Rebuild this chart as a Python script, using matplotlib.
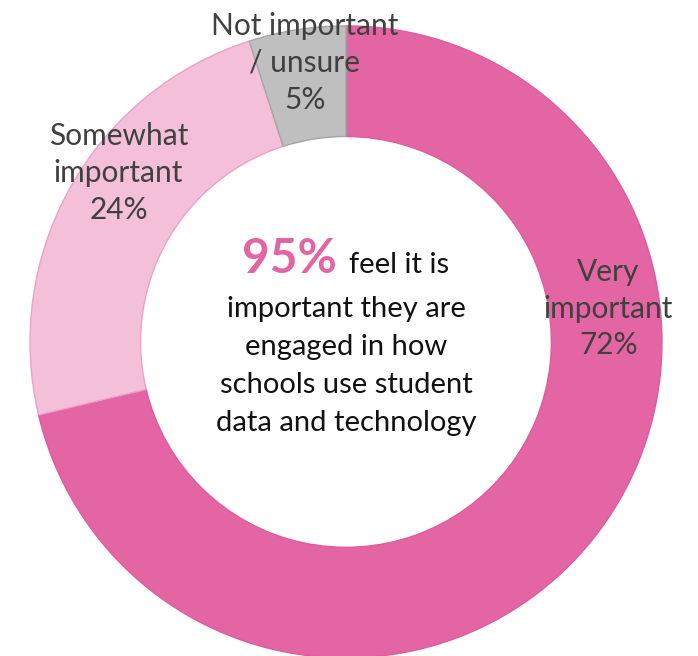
import matplotlib.pyplot as plt

# survey shares, clockwise from 12 o'clock
categories = ["Very\nimportant", "Somewhat\nimportant", "Not important\n/ unsure"]
shares = [72, 24, 5]
colors = ["#E465A3", "#F3BFD9", "#BFBFBF"]
edges = ["#E05C9C", "#EBA3C8", "#A5A5A5"]

headline = 95
message = ["important they are", "engaged in how", "schools use student", "data and technology"]

plt.rcParams['font.family'] = ['Lato', 'DejaVu Sans']

fig = plt.figure(figsize=(6.98, 6.56), dpi=100)
ax = fig.add_axes([0, 0, 1, 1])

wedges, _ = ax.pie(shares, colors=colors, startangle=90, counterclock=False,
                   radius=1.0, wedgeprops=dict(width=0.35, linewidth=1.0),
                   normalize=True)
for w, ec in zip(wedges, edges):
    w.set_edgecolor(ec)

ax.set_xlim(-1.095, 1.114)
ax.set_ylim(-0.994, 1.082)
ax.set_aspect('auto')
ax.axis('off')

# slice labels
label_pos = [(0.83, 0.105), (-0.72, 0.535), (-0.13, 0.883)]
for (x, y), cat, v in zip(label_pos, categories, shares):
    ax.text(x, y, f"{cat}\n{v}%", ha='center', va='center', fontsize=21.5,
            color="#404040", linespacing=1.38)

# center message
ax.text(-0.03, 0.218, f"{headline}%", ha='right', va='baseline', fontsize=34.5,
        fontweight='bold', color="#E465A3")
ax.text(0.01, 0.218, "feel it is", ha='left', va='baseline', fontsize=21,
        color="#111111")
for i, line in enumerate(message):
    ax.text(0.0, 0.079 - 0.12 * i, line, ha='center', va='baseline',
            fontsize=21, color="#111111")

fig.savefig("out.png", dpi=100)
